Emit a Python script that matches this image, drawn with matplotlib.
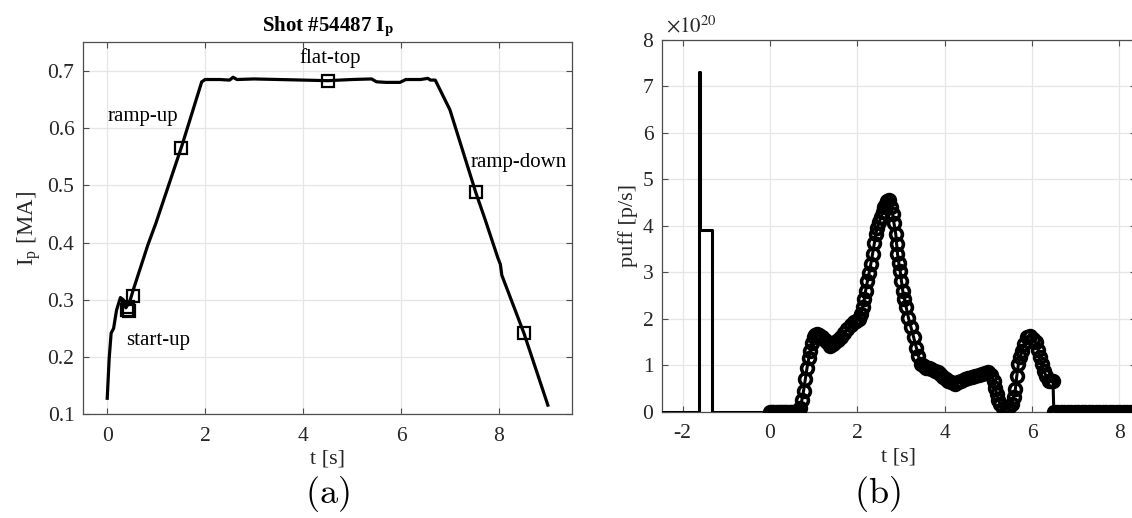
import matplotlib
matplotlib.use("Agg")
import matplotlib.pyplot as plt

plt.rcParams['font.family'] = ['Liberation Serif', 'DejaVu Serif']
plt.rcParams['mathtext.fontset'] = 'stix'
plt.rcParams['axes.unicode_minus'] = False

# ---------------- Panel (a): plasma current ----------------
ip_t = [0.00, 0.04, 0.08, 0.13, 0.19, 0.27, 0.33, 0.38, 0.46, 0.53, 0.83, 0.99,
        1.52, 1.93, 2.00, 2.30, 2.50, 2.57, 2.65, 3.00, 3.50, 4.00, 4.50, 5.00,
        5.40, 5.50, 5.70, 5.98, 6.10, 6.40, 6.55, 6.60, 6.70, 7.00, 7.53, 7.72,
        7.98, 8.03, 8.06, 8.51, 9.00]
ip_v = [0.128, 0.198, 0.242, 0.250, 0.282, 0.304, 0.300, 0.286, 0.297, 0.317, 0.396, 0.433,
        0.568, 0.681, 0.685, 0.685, 0.684, 0.689, 0.685, 0.686, 0.685, 0.684, 0.683, 0.685,
        0.686, 0.681, 0.680, 0.680, 0.685, 0.685, 0.687, 0.684, 0.684, 0.632, 0.487, 0.440,
        0.373, 0.362, 0.343, 0.242, 0.116]
sq_t = [0.40, 0.45, 0.42, 0.52, 1.50, 4.50, 7.53, 8.51]
sq_v = [0.283, 0.280, 0.288, 0.306, 0.566, 0.683, 0.488, 0.242]
phase_labels = ["ramp-up", "flat-top", "ramp-down", "start-up"]
phase_pos_t = [0.0, 4.55, 7.43, 0.38]
phase_pos_v = [0.62, 0.723, 0.54, 0.229]
phase_ha = ["left", "center", "left", "left"]

# ---------------- Panel (b): gas puff ----------------
pre_t = [-2.60, -1.63, -1.60, -1.32, 0.00]
pre_v = [0.0, 7.31, 3.91, 0.0, 0.0]

puff_t = [0.00, 0.05, 0.10, 0.15, 0.20, 0.25, 0.30, 0.35, 0.40, 0.45, 0.50, 0.55, 0.60, 0.65,
          0.69, 0.73, 0.77, 0.81, 0.85, 0.89, 0.92, 0.96, 1.00, 1.04, 1.08, 1.13, 1.19, 1.25,
          1.31, 1.38, 1.44, 1.50, 1.56, 1.62, 1.70, 1.77, 1.85, 1.92, 1.98, 2.04, 2.08, 2.12,
          2.16, 2.19, 2.23, 2.27, 2.31, 2.35, 2.39, 2.42, 2.46, 2.50, 2.54, 2.58, 2.62, 2.65,
          2.69, 2.73, 2.77, 2.81, 2.84, 2.88, 2.90, 2.92, 2.95, 2.98, 3.01, 3.04, 3.08, 3.12,
          3.17, 3.23, 3.29, 3.35, 3.40, 3.45, 3.52, 3.58, 3.64, 3.69, 3.77, 3.85, 3.90, 3.96,
          4.02, 4.08, 4.15, 4.23, 4.30, 4.38, 4.46, 4.54, 4.62, 4.70, 4.78, 4.85, 4.93, 5.00,
          5.06, 5.12, 5.16, 5.19, 5.23, 5.27, 5.33, 5.42, 5.48, 5.54, 5.58, 5.62, 5.65, 5.69,
          5.73, 5.77, 5.82, 5.88, 5.96, 6.02, 6.08, 6.14, 6.19, 6.23, 6.27, 6.32, 6.38, 6.44,
          6.48, 6.50, 6.58, 6.66, 6.74, 6.82, 6.90, 6.98, 7.06, 7.14, 7.22, 7.30, 7.38, 7.46,
          7.54, 7.62, 7.70, 7.78, 7.86, 7.94, 8.02, 8.10, 8.18, 8.26, 8.34, 8.42]
puff_v = [0.00, 0.00, 0.00, 0.00, 0.00, 0.00, 0.00, 0.00, 0.00, 0.00, 0.00, 0.00, 0.00, 0.00,
          0.09, 0.25, 0.45, 0.70, 0.95, 1.15, 1.31, 1.47, 1.60, 1.65, 1.67, 1.64, 1.60, 1.55,
          1.49, 1.42, 1.45, 1.49, 1.55, 1.60, 1.70, 1.78, 1.86, 1.92, 1.96, 1.99, 2.10, 2.24,
          2.42, 2.60, 2.80, 2.98, 3.18, 3.40, 3.62, 3.82, 3.95, 4.07, 4.18, 4.29, 4.39, 4.47,
          4.52, 4.55, 4.40, 4.25, 4.05, 3.82, 3.60, 3.39, 3.20, 3.03, 2.82, 2.60, 2.42, 2.24,
          2.02, 1.81, 1.60, 1.38, 1.20, 1.03, 0.99, 0.95, 0.93, 0.92, 0.88, 0.85, 0.80, 0.74,
          0.70, 0.67, 0.63, 0.60, 0.64, 0.67, 0.70, 0.72, 0.74, 0.76, 0.78, 0.81, 0.83, 0.85,
          0.78, 0.67, 0.52, 0.38, 0.26, 0.16, 0.09, 0.06, 0.10, 0.16, 0.32, 0.49, 0.76, 1.03,
          1.17, 1.31, 1.45, 1.60, 1.63, 1.56, 1.49, 1.33, 1.17, 1.02, 0.88, 0.77, 0.67, 0.65,
          0.65, 0.00, 0.00, 0.00, 0.00, 0.00, 0.00, 0.00, 0.00, 0.00, 0.00, 0.00, 0.00, 0.00,
          0.00, 0.00, 0.00, 0.00, 0.00, 0.00, 0.00, 0.00, 0.00, 0.00, 0.00, 0.00]

a_xticks = [0, 2, 4, 6, 8]
a_yticks = [0.1, 0.2, 0.3, 0.4, 0.5, 0.6, 0.7]
a_yticklabels = ["0.1", "0.2", "0.3", "0.4", "0.5", "0.6", "0.7"]
b_xticks = [-2, 0, 2, 4, 6, 8]
b_yticks = [0, 1, 2, 3, 4, 5, 6, 7, 8]

TXT = '#262626'
SPINE = '#4d4d4d'
GRID = '#e6e6e6'

fig = plt.figure(figsize=(11.32, 5.18), dpi=100)
axA = fig.add_axes([0.0731, 0.2002, 0.4325, 0.7181])
axB = fig.add_axes([0.5845, 0.2052, 0.4190, 0.7185])


def style(ax):
    ax.grid(True, color=GRID, linewidth=0.9)
    ax.set_axisbelow(True)
    for s in ax.spines.values():
        s.set_color(SPINE)
        s.set_linewidth(0.9)
    ax.tick_params(direction='in', length=4, width=0.8, color=SPINE,
                   top=True, right=True, labelsize=15.5, labelcolor=TXT)
    ax.tick_params(axis='x', pad=9)
    ax.tick_params(axis='y', pad=6)


# Panel (a)
style(axA)
axA.plot(ip_t, ip_v, color='black', linewidth=2.3, zorder=3)
axA.plot(sq_t, sq_v, linestyle='none', marker='s', markersize=9,
         markerfacecolor='none', markeredgecolor='black', markeredgewidth=1.6, zorder=4)
for lab, tx, ty, ha in zip(phase_labels, phase_pos_t, phase_pos_v, phase_ha):
    axA.text(tx, ty, lab, fontsize=15, ha=ha, va='center', color='black')
axA.set_xlim(-0.5, 9.5)
axA.set_ylim(0.1, 0.75)
axA.set_xticks(a_xticks)
axA.set_yticks(a_yticks)
axA.set_yticklabels(a_yticklabels)
axA.set_xlabel('t [s]', fontsize=16, color=TXT, labelpad=3)
axA.set_ylabel(r'I$_\mathregular{p}$ [MA]', fontsize=16.5, color=TXT, labelpad=3)
axA.set_title(r'Shot #54487 I$_\mathbf{p}$', fontsize=15, fontweight='bold', pad=8)

# Panel (b)
style(axB)
axB.step(pre_t, pre_v, where='post', color='black', linewidth=2.2, zorder=3)
axB.plot(puff_t, puff_v, color='black', linewidth=2.2, marker='o', markersize=8.5,
         markerfacecolor='none', markeredgecolor='black', markeredgewidth=2.6, zorder=4,
         clip_on=True)
axB.set_xlim(-2.48, 8.38)
axB.set_ylim(0, 8)
axB.set_xticks(b_xticks)
axB.set_yticks(b_yticks)
axB.set_xlabel('t [s]', fontsize=16, color=TXT, labelpad=3)
axB.set_ylabel('puff [p/s]', fontsize=16, color=TXT, labelpad=3)
axB.text(0.01, 1.005, r'$\times10^{20}$', transform=axB.transAxes, fontsize=15,
         color=TXT, ha='left', va='bottom')

# Sub-figure captions
fig.text(0.2888, 0.008, r'$(\mathrm{a})$', fontsize=26, ha='center', va='bottom',
         math_fontfamily='cm')
fig.text(0.7753, 0.008, r'$(\mathrm{b})$', fontsize=26, ha='center', va='bottom',
         math_fontfamily='cm')

fig.savefig('out.png', dpi=100)
